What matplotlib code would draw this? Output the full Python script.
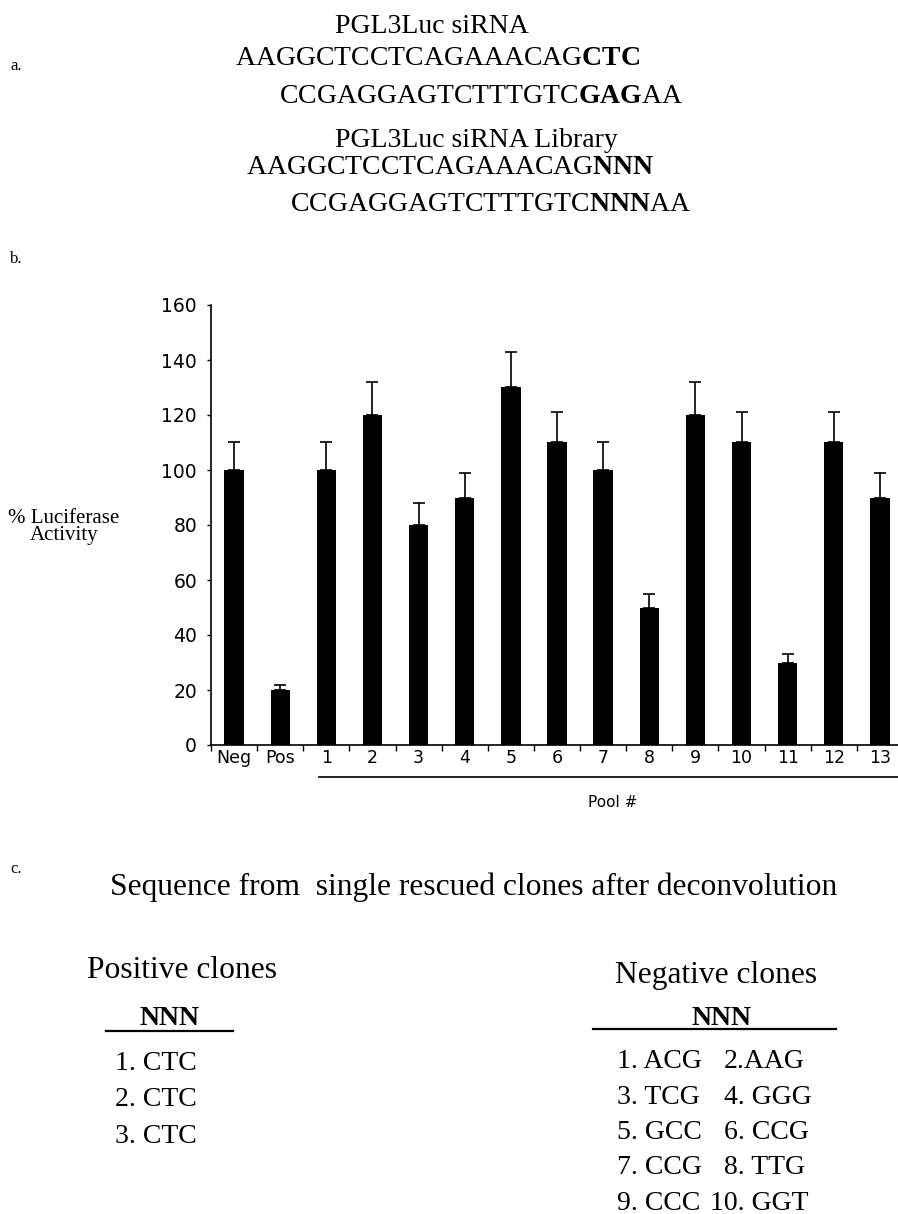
import matplotlib
matplotlib.use("Agg")
import matplotlib.pyplot as plt
from matplotlib.lines import Line2D

plt.rcParams['mathtext.fontset'] = 'custom'
plt.rcParams['mathtext.rm'] = 'Liberation Serif'
plt.rcParams['mathtext.bf'] = 'Liberation Serif:bold'

# data
categories = ['Neg', 'Pos', '1', '2', '3', '4', '5', '6', '7', '8', '9', '10', '11', '12', '13']
activity = [100, 20, 100, 120, 80, 90, 130, 110, 100, 50, 120, 110, 30, 110, 90]
errors = [10, 2, 10, 12, 8, 9, 13, 11, 10, 5, 12, 11, 3, 11, 9]
yticks = [0, 20, 40, 60, 80, 100, 120, 140, 160]

positive_clones = ['1. CTC', '2. CTC', '3. CTC']
negative_left = ['1. ACG', '3. TCG', '5. GCC', '7. CCG', '9. CCC']
negative_right = ['2.AAG', '4. GGG', '6. CCG', '8. TTG', '10. GGT']

W, H = 898, 1214
fig = plt.figure(figsize=(W / 100, H / 100), dpi=100)
serif = 'Liberation Serif'


def px(x, y):
    return x / W, 1 - y / H


def put(x, y, s, size, **kw):
    # y is the baseline, in pixels from the top
    fig.text(*px(x, y), s, fontsize=size, family=serif, va='baseline', **kw)


# panel a
put(10, 70, 'a.', 12)
put(335, 33, 'PGL3Luc siRNA', 20)
put(235, 65, r'AAGGCTCCTCAGAAACAG$\mathbf{CTC}$', 20)
put(279, 103, r'CCGAGGAGTCTTTGTC$\mathbf{GAG}$AA', 20)
put(335, 147, 'PGL3Luc siRNA Library', 20)
put(246, 174, r'AAGGCTCCTCAGAAACAG$\mathbf{NNN}$', 20)
put(290, 211, r'CCGAGGAGTCTTTGTC$\mathbf{NNN}$AA', 20)

# panel b
put(10, 263, 'b.', 12)
put(64, 523, '% Luciferase', 15, ha='center')
put(64, 540, 'Activity', 15, ha='center')

ax = fig.add_axes([211 / W, 1 - 745 / H, 692 / W, 440 / H])
x = list(range(len(categories)))
ax.bar(x, activity, width=0.42, color='black')
ax.errorbar(x, activity, yerr=[[0] * len(errors), errors], fmt='none',
            ecolor='black', elinewidth=1.2, capsize=4, capthick=1.2)
ax.set_xlim(-0.5, len(categories) - 0.5)
ax.set_ylim(0, 160)
ax.set_yticks(yticks)
ax.set_xticks(x)
ax.set_xticklabels(categories)
ax.set_xticks([i - 0.5 for i in range(len(categories) + 1)], minor=True)
ax.tick_params(axis='x', which='major', length=0, labelsize=12.5, pad=3)
ax.tick_params(axis='x', which='minor', length=4, direction='out', width=1)
ax.tick_params(axis='y', length=3, width=1, labelsize=13.5, pad=7)
for s in ['top', 'right']:
    ax.spines[s].set_visible(False)
ax.spines['left'].set_linewidth(1.2)
ax.spines['bottom'].set_linewidth(1.2)

ax.add_line(Line2D([1.84, 14.6], [-0.073, -0.073], transform=ax.get_xaxis_transform(),
                   color='black', lw=1.2, clip_on=False))
ax.text(8.2, -0.13, 'Pool #', transform=ax.get_xaxis_transform(),
        ha='center', va='center', fontsize=11)

# panel c
put(10, 873, 'c.', 12)
put(110, 895, 'Sequence from  single rescued clones after deconvolution', 22.7)

put(87, 978, 'Positive clones', 22.7)
put(170, 1025, 'NNN', 20, ha='center', weight='bold')
fig.add_artist(Line2D([106 / W, 233 / W], [1 - 1031 / H] * 2, color='black', lw=1.6))
for i, s in enumerate(positive_clones):
    put(115, 1070 + 36.5 * i, s, 20)

put(615, 983, 'Negative clones', 22.7)
put(721, 1025, 'NNN', 20, ha='center', weight='bold')
fig.add_artist(Line2D([593 / W, 836 / W], [1 - 1029 / H] * 2, color='black', lw=1.6))
for i, (a, b) in enumerate(zip(negative_left, negative_right)):
    yb = 1068 + 35.5 * i
    put(617, yb, a, 20)
    # two-digit numbers start a little further left
    shift = 14 if len(b.split('.')[0]) > 1 else 0
    put(724 - shift, yb, b, 20)

fig.savefig('out.png', dpi=100)
